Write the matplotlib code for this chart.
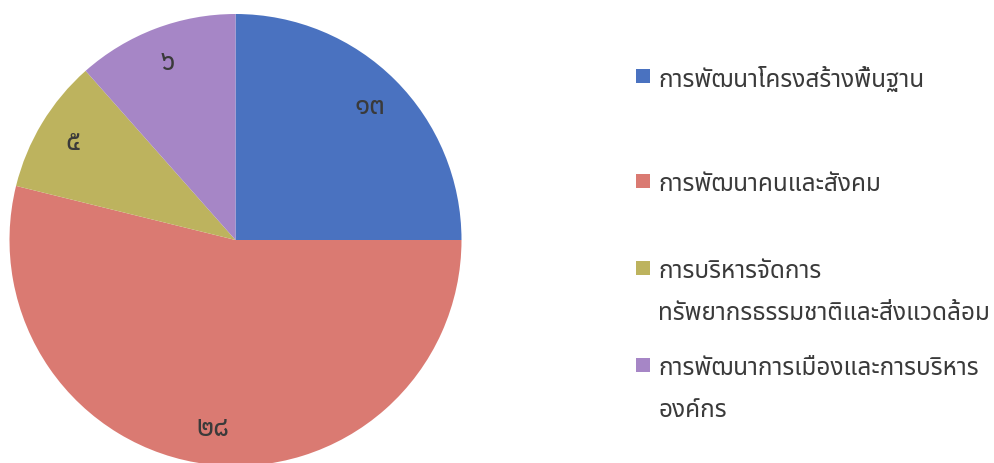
import matplotlib
matplotlib.use("Agg")
import matplotlib.pyplot as plt
from matplotlib import font_manager
from matplotlib.ft2font import FT2Font
from matplotlib.patches import Rectangle

# data
labels = [["การพัฒนาโครงสร้างพื้นฐาน"],
          ["การพัฒนาคนและสังคม"],
          ["การบริหารจัดการ", "ทรัพยากรธรรมชาติและสิ่งแวดล้อม"],
          ["การพัฒนาการเมืองและการบริหาร", "องค์กร"]]
values = [13, 28, 5, 6]
colors = ["#4a72c0", "#da7a72", "#bdb35e", "#a686c6"]
thai_digits = "๐๑๒๓๔๕๖๗๘๙"


def find_thai_font():
    found = []
    for f in font_manager.fontManager.ttflist:
        try:
            if 0x0E01 in FT2Font(f.fname).get_charmap():
                found.append(f.name)
        except Exception:
            pass
    for pref in ["Noto Sans Thai", "Loma", "Garuda", "Tlwg Typo", "Noto Sans"]:
        if pref in found:
            return pref
    return found[0] if found else "DejaVu Sans"


thai_font = find_thai_font()
plt.rcParams['font.family'] = [thai_font, 'DejaVu Sans']

W, H = 994, 464
fig = plt.figure(figsize=(W / 100, H / 100), dpi=100)

# pie axes: centre (235.5, 241) px from top, radius 226 px
cx, cy, r = 235.5, 241, 226
ax = fig.add_axes([(cx - r) / W, (H - cy - r) / H, 2 * r / W, 2 * r / H])

total = sum(values)


def to_thai(pct):
    v = int(round(pct * total / 100.0))
    return "".join(thai_digits[int(c)] for c in str(v))


wedges, texts, autotexts = ax.pie(values, colors=colors, startangle=90,
                                  counterclock=False, radius=1,
                                  autopct=to_thai, pctdistance=0.84,
                                  textprops={'fontsize': 20, 'color': '#3a3a3a'})
ax.set_xlim(-1, 1)
ax.set_ylim(-1, 1)
ax.set_aspect('equal')
ax.axis('off')

# legend, placed like the original
rows = [80, 185, 272, 369]
line_gap = 42
for lines, col, y in zip(labels, colors, rows):
    fig.patches.append(Rectangle((636 / W, (H - y + 3 - 7) / H), 14 / W, 14 / H,
                                 transform=fig.transFigure, facecolor=col,
                                 edgecolor='none'))
    for i, ln in enumerate(lines):
        fig.text(658 / W, (H - y - i * line_gap) / H, ln, fontsize=17.5,
                 color='#3a3a3a', va='center', ha='left')

fig.savefig("out.png", dpi=100)
